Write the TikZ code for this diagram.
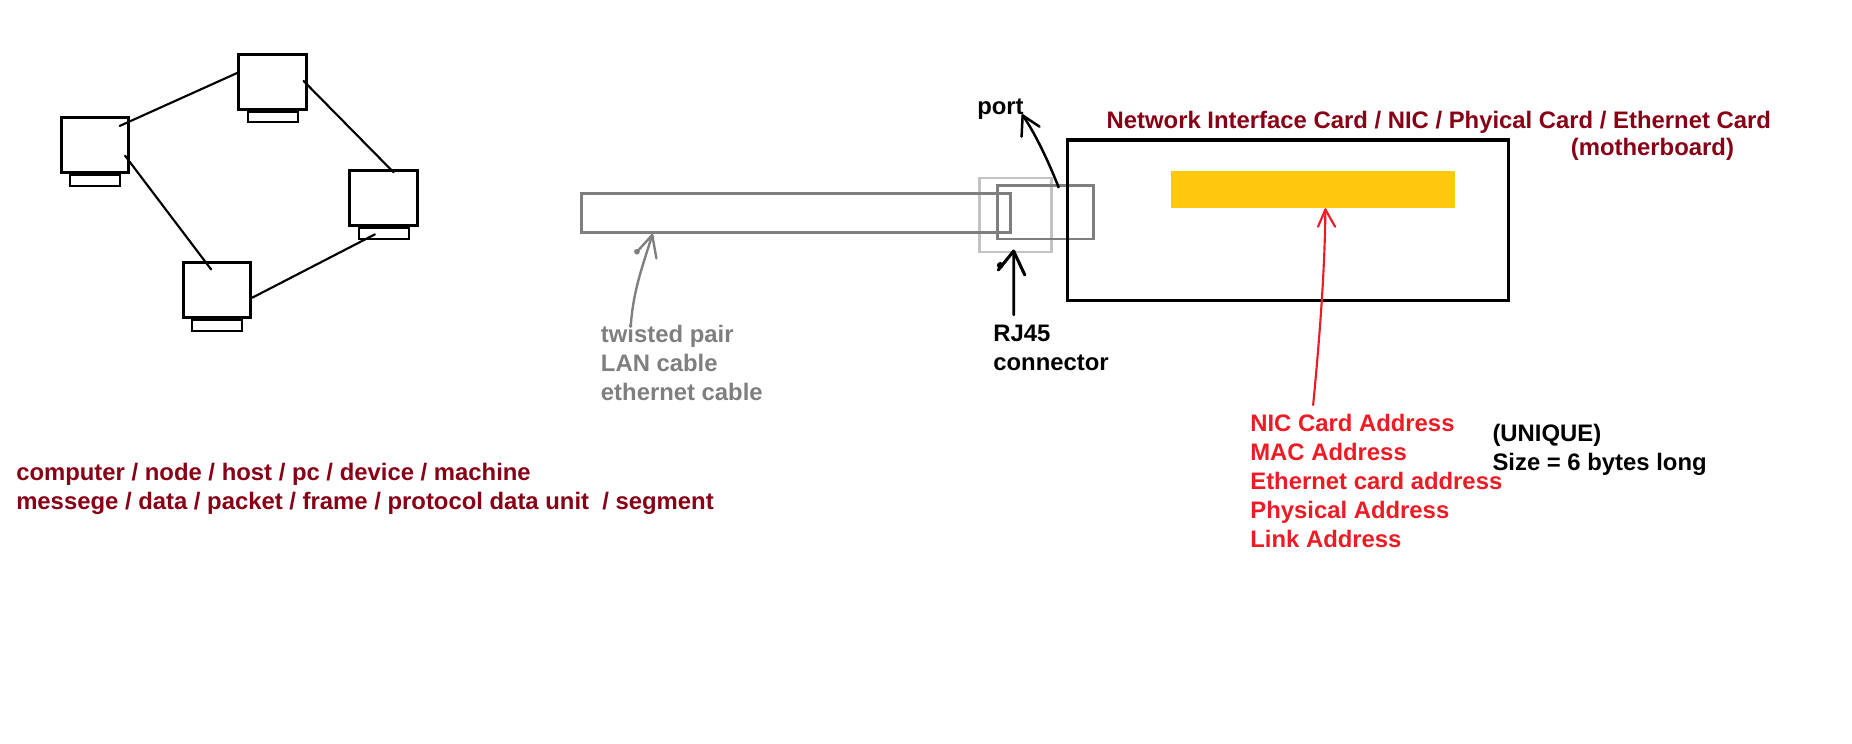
\documentclass[tikz,border=0pt]{standalone}
\usepackage{fontspec}
\setmainfont{Liberation Sans}
\definecolor{darkred}{HTML}{880015}
\definecolor{brightred}{HTML}{ED1C24}
\definecolor{midgray}{HTML}{7F7F7F}
\definecolor{lightgray}{HTML}{C3C3C3}
\definecolor{cardyellow}{HTML}{FFC90E}
\begin{document}
\begin{tikzpicture}[x=1pt,y=-1pt,
  pcbox/.style={draw=black, line width=2.5pt, minimum width=57pt, minimum height=46.5pt, inner sep=0pt},
  pcbase/.style={draw=black, line width=1.7pt, minimum width=42pt, minimum height=9pt, inner sep=0pt},
  link/.style={draw=black, line width=1.8pt, line cap=round},
  txt/.style={anchor=base west, inner sep=0pt, font=\bfseries\fontsize{20.1}{24.4}\selectfont},
  hand/.style={line width=2.3pt, line cap=round, line join=round},
  plain/.style={inner sep=0pt, outer sep=0pt}
]
\useasboundingbox (0,0) rectangle (1560,626);

% computers
\node[pcbox] (A) at (79.9,122.3) {};
\node[pcbox] (B) at (229.6,68.8) {};
\node[pcbox] (C) at (323.2,166.7) {};
\node[pcbox] (D) at (182.7,244.2) {};
\node[pcbase, anchor=north] (Ab) at (A.south) {};
\node[pcbase, anchor=north] (Bb) at (B.south) {};
\node[pcbase, anchor=north] (Cb) at (C.south) {};
\node[pcbase, anchor=north] (Db) at (D.south) {};

\coordinate (ab1) at (100.8,106.1); \coordinate (ab2) at (200.4,61.2);
\coordinate (bc1) at (255.7,68.2);  \coordinate (bc2) at (331.6,145.2);
\coordinate (ad1) at (105.3,131.1); \coordinate (ad2) at (177.8,226.9);
\coordinate (dc1) at (212.4,250.8); \coordinate (dc2) at (315.8,197.4);
\draw[link] (ab1) -- (ab2);
\draw[link] (bc1) -- (bc2);
\draw[link] (ad1) -- (ad2);
\draw[link] (dc1) -- (dc2);

% cable, connector, port
\node[plain, draw=lightgray, line width=2.2pt, minimum width=60.5pt, minimum height=62.4pt] (rj) at (855.2,181) {};
\node[plain, draw=midgray, line width=2.3pt, minimum width=361pt, minimum height=33pt] (cable) at (670.6,179.4) {};
\node[plain, draw=midgray, line width=2.3pt, minimum width=81pt, minimum height=44.7pt] (port) at (880.8,178.9) {};

% NIC
\node[plain, draw=black, line width=2.6pt, minimum width=371.5pt, minimum height=135pt] (nic) at (1085,185.4) {};
\node[plain, fill=cardyellow, minimum width=239.5pt, minimum height=31pt] (chip) at (1106,159.5) {};

% texts
\node[txt, text=darkred] (t1) at (13.5,404.9) {computer / node / host / pc / device / machine};
\node[txt, text=darkred] (t2) at (13.5,428.9) {messege / data / packet / frame / protocol data unit~ / segment};

\node[txt, text=midgray] (g1) at (506,288.4) {twisted pair};
\node[txt, text=midgray] (g2) at (506,312.8) {LAN cable};
\node[txt, text=midgray] (g3) at (506,337) {ethernet cable};

\node[txt] (rj1) at (836.5,287.8) {RJ45};
\node[txt] (rj2) at (836.5,312.3) {connector};
\node[txt] (portlbl) at (823,96.3) {port};

\node[txt, text=darkred] (nic1) at (932,108.1) {Network Interface Card / NIC / Phyical Card / Ethernet Card};
\node[txt, text=darkred] (nic2) at (1323,130.8) {(motherboard)};

\node[txt, text=brightred] (r1) at (1053,363.6) {NIC Card Address};
\node[txt, text=brightred] (r2) at (1053,388.1) {MAC Address};
\node[txt, text=brightred] (r3) at (1053,412.4) {Ethernet card address};
\node[txt, text=brightred] (r4) at (1053,436.8) {Physical Address};
\node[txt, text=brightred] (r5) at (1053,461.2) {Link Address};

\node[txt] (u1) at (1257,372.1) {(UNIQUE)};
\node[txt] (u2) at (1257,396.3) {Size = 6 bytes long};

% hand-drawn arrows
% gray cable arrow
\coordinate (ga0) at (531.2,275.2);
\coordinate (gatip) at (549.4,197.9);
\coordinate (gal) at (537.5,211);
\coordinate (gar) at (552.9,217.6);
\draw[hand, midgray, line width=2pt] (ga0) .. controls (533.5,245) and (540,228) .. (gatip);
\draw[hand, midgray, line width=2pt] (gal) -- (gatip) -- (gar);
\fill[midgray] (536.5,212) circle (2.4pt);

% RJ45 arrow
\coordinate (rja0) at (854,265.3);
\coordinate (rjatip) at (853.8,211.5);
\coordinate (rjal) at (840.9,227.4);
\coordinate (rjar) at (863.2,231.6);
\draw[hand, black] (rja0) -- (rjatip);
\draw[hand, black, line width=2.6pt] (rjal) -- (rjatip) -- (rjar);
\fill[black] (842.5,223.5) circle (2.8pt);

% port arrow
\coordinate (pa0) at (891.7,157.8);
\coordinate (patip) at (861.4,97.2);
\coordinate (pal) at (860.5,115.1);
\coordinate (par) at (875.6,106.7);
\draw[hand, black, line width=2.1pt] (pa0) .. controls (884,138) and (872,112) .. (patip);
\draw[hand, black, line width=2.1pt] (pal) -- (patip) -- (par);

% red arrow
\coordinate (ra0) at (1106.1,341.2);
\coordinate (ratip) at (1116.4,176.4);
\coordinate (ral) at (1110.2,191);
\coordinate (rar) at (1124.6,191);
\draw[hand, brightred, line width=1.8pt] (ra0) .. controls (1111,290) and (1116,230) .. (ratip);
\draw[hand, brightred, line width=1.8pt] (ral) -- (ratip) -- (rar);
\end{tikzpicture}
\end{document}
